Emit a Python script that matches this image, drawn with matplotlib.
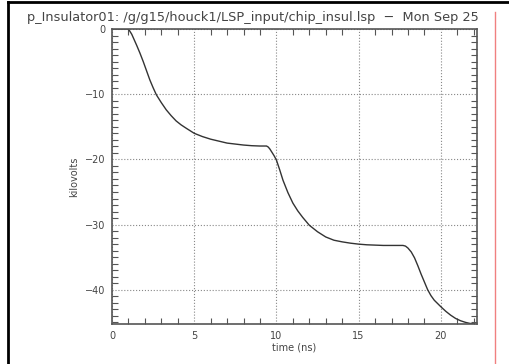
import matplotlib
matplotlib.use('Agg')
import matplotlib.pyplot as plt
from matplotlib.lines import Line2D
from matplotlib.ticker import MultipleLocator

# voltage trace (time in ns, kilovolts)
time_ns = [0.0, 1.0, 1.2, 1.5, 1.7, 1.9, 2.1, 2.3, 2.5, 2.7, 3.0, 3.3, 3.6, 3.9, 4.2, 4.5, 5.0,
           5.5, 6.0, 6.5, 7.0, 7.5, 8.0, 8.5, 9.0, 9.4, 9.5, 9.6, 9.7, 9.85, 10.0, 10.2, 10.4,
           10.7, 11.0, 11.3, 11.6, 12.0, 12.5, 13.0, 13.5, 14.0, 14.5, 15.0, 15.5, 16.0, 16.5,
           17.0, 17.7, 17.85, 18.0, 18.2, 18.4, 18.6, 18.8, 19.0, 19.2, 19.4, 19.6, 19.8, 20.0,
           20.3, 20.6, 20.9, 21.2, 21.5, 21.75, 22.05]
kilovolts = [0.0, 0.0, -0.8, -2.5, -3.7, -5.0, -6.4, -7.8, -9.0, -10.1, -11.3, -12.4, -13.3,
             -14.1, -14.7, -15.2, -16.0, -16.5, -16.9, -17.2, -17.5, -17.65, -17.8, -17.9,
             -17.95, -17.95, -18.1, -18.4, -18.8, -19.4, -20.1, -21.6, -23.2, -25.1, -26.7,
             -27.9, -28.9, -30.1, -31.1, -31.9, -32.4, -32.65, -32.85, -33.0, -33.1, -33.15,
             -33.2, -33.2, -33.2, -33.3, -33.6, -34.2, -35.1, -36.3, -37.6, -38.8, -40.0, -40.9,
             -41.6, -42.1, -42.6, -43.3, -43.9, -44.4, -44.75, -45.0, -45.15, -45.25]

title = "p_Insulator01: /g/g15/houck1/LSP_input/chip_insul.lsp  \u2212  Mon Sep 25"
x_ticks = [0, 5, 10, 15, 20]
y_ticks = [0, -10, -20, -30, -40]

fig = plt.figure(figsize=(5.09, 3.64), dpi=100)
W, H = 509, 364
ax = fig.add_axes([112 / W, 1 - 324 / H, (477 - 112) / W, (324 - 29) / H])

ax.plot(time_ns, kilovolts, color='#333333', lw=1.0)
ax.set_xlim(0, 22.2)
ax.set_ylim(-45.25, 0)

ax.set_xticks(x_ticks)
ax.set_yticks(y_ticks)
ax.set_xticklabels([str(v) for v in x_ticks])
ax.set_yticklabels([str(v).replace('-', '\u2212') for v in y_ticks])
ax.xaxis.set_minor_locator(MultipleLocator(1))
ax.yaxis.set_minor_locator(MultipleLocator(1))
ax.tick_params(which='both', direction='in', top=True, right=True, colors='#555555',
               labelcolor='#444444', labelsize=7)
ax.tick_params(which='major', length=0, pad=5)
ax.tick_params(which='minor', length=4, width=0.8)
ax.grid(True, which='major', linestyle=':', color='#888888', lw=0.8)
for s in ax.spines.values():
    s.set_color('#555555')
    s.set_linewidth(1.2)

ax.set_xlabel('time (ns)', fontsize=7, color='#444444', labelpad=1)
ax.set_ylabel('kilovolts', fontsize=7, color='#444444', labelpad=4)

fig.text(27 / W, 1 - 17 / H, title, fontsize=9.3, color='#444444', va='center', ha='left')

# red margin line and the page frame
fig.add_artist(Line2D([495 / W, 495 / W], [0, 1 - 12 / H], transform=fig.transFigure,
                      color='#f08080', lw=1, zorder=11))
fig.add_artist(Line2D([8 / W, 8 / W], [0, 1 - 2 / H], transform=fig.transFigure,
                      color='black', lw=2, zorder=11))
fig.add_artist(Line2D([8 / W, 1], [1 - 2 / H, 1 - 2 / H], transform=fig.transFigure,
                      color='black', lw=2, zorder=11))

fig.savefig('out.png', dpi=100)
